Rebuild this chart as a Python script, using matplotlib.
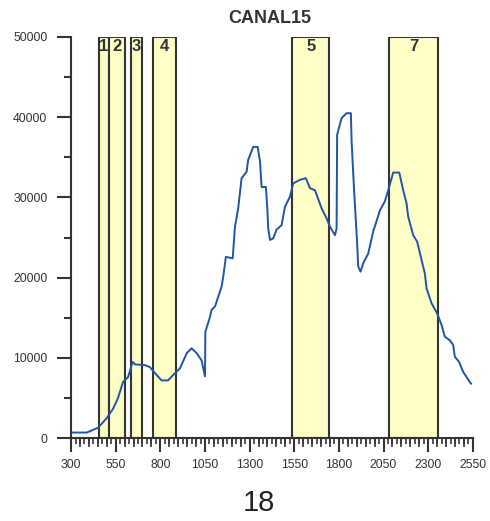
import numpy as np
import matplotlib
matplotlib.use("Agg")
from matplotlib import pyplot as plt

plt.rcParams['font.family'] = ['Liberation Sans', 'DejaVu Sans']

# trace data
wavelength = [300, 388, 451, 500, 536, 563, 591, 619, 645, 658, 714, 742, 770, 807, 843, 871,
              910, 948, 975, 1003, 1031, 1050, 1052, 1078, 1087, 1106, 1143, 1152, 1167, 1205,
              1218, 1236, 1255, 1283, 1292, 1320, 1345, 1358, 1367, 1391, 1399, 1404, 1414, 1432,
              1451, 1479, 1498, 1526, 1544, 1582, 1615, 1638, 1666, 1703, 1731, 1750, 1778, 1787,
              1790, 1815, 1843, 1867, 1871, 1884, 1902, 1908, 1921, 1936, 1964, 1992, 2030, 2057,
              2076, 2104, 2138, 2160, 2179, 2188, 2216, 2238, 2263, 2281, 2291, 2319, 2350, 2375,
              2393, 2421, 2440, 2449, 2473, 2496, 2533, 2540]
signal = [700, 700, 1300, 2500, 3700, 5000, 7000, 7600, 9500, 9200, 9100, 8850, 8100, 7200, 7200,
          7850, 8700, 10600, 11200, 10600, 9700, 7700, 13250, 15100, 16000, 16400, 18900, 20100,
          22600, 22400, 26350, 28650, 32400, 33200, 34700, 36300, 36300, 34500, 31300, 31300,
          28650, 26150, 24700, 24900, 26000, 26550, 28850, 30100, 31750, 32200, 32400, 31150,
          30900, 28650, 27400, 26350, 25300, 26150, 37800, 39900, 40500, 40500, 37000, 31300,
          24300, 21400, 20750, 21800, 23000, 25750, 28400, 29500, 30900, 33100, 33100, 30900,
          29250, 27600, 25300, 24500, 22200, 20550, 18650, 16800, 15550, 14100, 12650, 12200,
          11600, 10150, 9500, 8250, 7000, 6800]

# highlighted bands
band_labels = ['1', '2', '3', '4', '5', '7']
band_start = [455, 515, 635, 760, 1540, 2080]
band_end = [515, 600, 695, 890, 1745, 2355]

ymax = 50000
xticks = np.arange(300, 2551, 250)
yticks = np.arange(0, 50001, 10000)

fig = plt.figure(figsize=(4.9, 5.21), dpi=100)
ax = fig.add_axes([0.145, 0.159, 0.82, 0.770])

widths = np.array(band_end) - np.array(band_start)
ax.bar(band_start, ymax, width=widths, align='edge', color='#ffffc8',
       edgecolor='#333333', linewidth=1.5, zorder=1)
for lab, s, e in zip(band_labels, band_start, band_end):
    ax.text((s + e) / 2, ymax * 0.977, lab, ha='center', va='center',
            fontsize=12, fontweight='bold', color='#333333', zorder=3)

ax.plot(wavelength, signal, color='#1f55a3', linewidth=1.4, zorder=2)

ax.set_xlim(300, 2550)
ax.set_ylim(0, ymax)
ax.set_xticks(xticks)
ax.set_yticks(yticks)
ax.set_xticks(np.arange(300, 2551, 25), minor=True)
ax.set_yticks(np.arange(0, 50001, 5000), minor=True)

for s in ['top', 'right']:
    ax.spines[s].set_visible(False)
for s in ['left', 'bottom']:
    ax.spines[s].set_color('#333333')
    ax.spines[s].set_linewidth(1.5)

ax.tick_params(axis='both', which='major', direction='out', length=10, width=1.5,
               color='#333333', labelsize=8.8, labelcolor='#333333')
ax.tick_params(axis='x', which='major', pad=5)
ax.tick_params(axis='y', which='major', pad=7)
ax.tick_params(axis='x', which='minor', direction='out', length=4, width=1.2, color='#333333')
ax.tick_params(axis='y', which='minor', direction='out', length=5, width=1.5, color='#333333')

# medium ticks every 50
sec = ax.secondary_xaxis(0)
sec.set_xticks([t for t in np.arange(350, 2551, 50) if (t - 300) % 250 != 0])
sec.tick_params(direction='out', length=6.5, width=1.2, color='#333333', labelbottom=False)
sec.spines['bottom'].set_visible(False)

fig.text(0.551, 0.965, 'CANAL15', ha='center', va='center', fontsize=13,
         fontweight='bold', color='#333333')
fig.text(0.529, 0.035, '18', ha='center', va='center', fontsize=21, color='#222222')

fig.savefig('out.png', dpi=100)
